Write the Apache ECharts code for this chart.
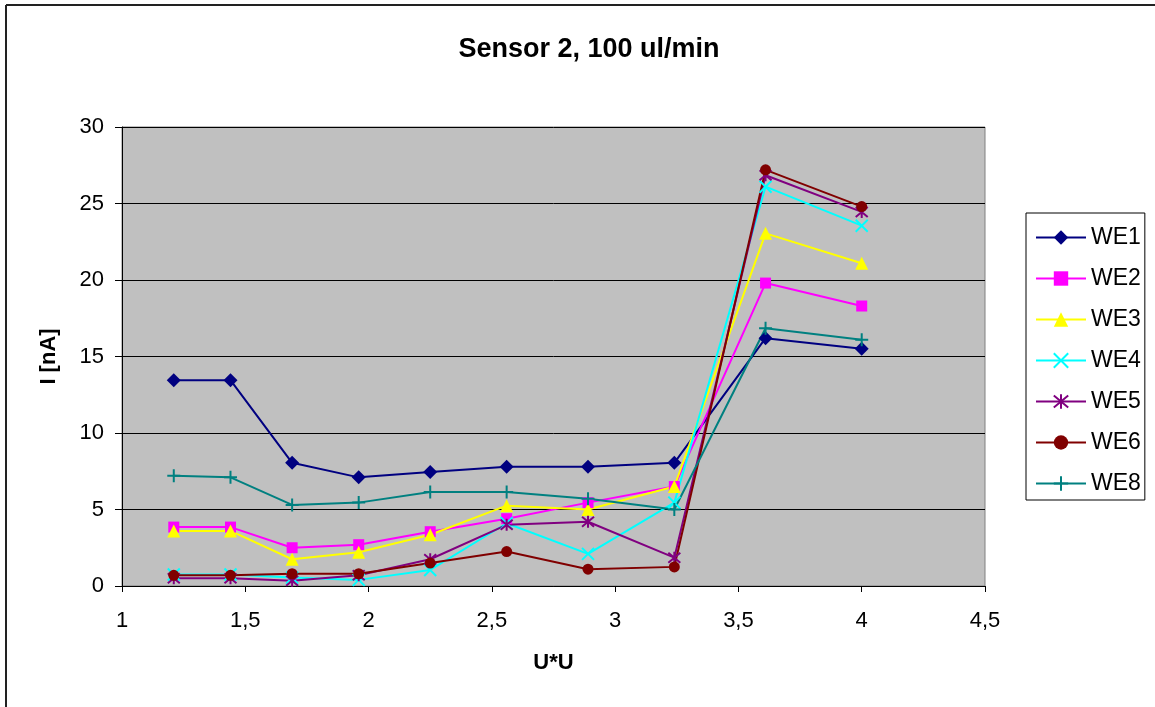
<!DOCTYPE html>
<html>
<head>
<meta charset="utf-8">
<script src="https://cdn.jsdelivr.net/npm/echarts@6/dist/echarts.min.js"></script>
<style>
  html, body { margin: 0; padding: 0; background: #ffffff; }
  #chart { width: 1155px; height: 707px; }
</style>
</head>
<body>
<div id="chart"></div>
<script>
// U*U values (x) and electrode currents I [nA]
const uu  = [1.21, 1.44, 1.69, 1.96, 2.25, 2.56, 2.89, 3.24, 3.61, 4];
const we1 = [13.45, 13.45, 8.05, 7.1, 7.45, 7.8, 7.8, 8.05, 16.2, 15.5];
const we2 = [3.85, 3.85, 2.5, 2.7, 3.55, 4.4, 5.45, 6.5, 19.8, 18.3];
const we3 = [3.6, 3.6, 1.75, 2.2, 3.35, 5.25, 5.0, 6.5, 23.05, 21.1];
const we4 = [0.75, 0.75, 0.55, 0.4, 1.05, 4.1, 2.1, 5.45, 26.1, 23.55];
const we5 = [0.5, 0.5, 0.35, 0.7, 1.75, 4.0, 4.2, 1.85, 26.85, 24.45];
const we6 = [0.7, 0.7, 0.8, 0.8, 1.5, 2.25, 1.1, 1.25, 27.2, 24.8];
const we8 = [7.2, 7.1, 5.3, 5.45, 6.15, 6.15, 5.7, 5.0, 16.85, 16.1];

const FONT = "'Liberation Sans', Arial, sans-serif";

const seriesDefs = [
  { name: 'WE1', data: we1, color: '#000080', symbol: 'diamond', size: 14, fill: true },
  { name: 'WE2', data: we2, color: '#FF00FF', symbol: 'rect', size: 11, fill: true },
  { name: 'WE3', data: we3, color: '#FFFF00', symbol: 'triangle', size: 13, fill: true },
  { name: 'WE4', data: we4, color: '#00FFFF', symbol: 'path://M0,0L10,10M10,0L0,10', size: 12, fill: false },
  { name: 'WE5', data: we5, color: '#800080', symbol: 'path://M0,0L10,10M10,0L0,10M5,-1L5,11', size: 12, fill: false },
  { name: 'WE6', data: we6, color: '#800000', symbol: 'circle', size: 11, fill: true },
  { name: 'WE8', data: we8, color: '#008080', symbol: 'path://M5,0L5,10M0,5L10,5', size: 13, fill: false }
];

const series = seriesDefs.map(s => ({
  name: s.name,
  type: 'line',
  data: uu.map((x, i) => [x, s.data[i]]),
  symbol: s.symbol,
  symbolSize: s.size,
  showAllSymbol: true,
  color: s.color,
  lineStyle: { color: s.color, width: 2 },
  itemStyle: s.fill
    ? { color: s.color, borderWidth: 0 }
    : { color: s.color, borderColor: s.color, borderWidth: 2 },
  emphasis: { disabled: true },
  animation: false
}));

const chart = echarts.init(document.getElementById('chart'), null, { renderer: 'canvas' });
chart.setOption({
  animation: false,
  backgroundColor: '#ffffff',
  title: {
    text: 'Sensor 2, 100 ul/min',
    left: 584,
    top: 31,
    textAlign: 'center',
    textStyle: { fontFamily: FONT, fontSize: 27, fontWeight: 'bold', color: '#000' }
  },
  grid: {
    left: 122, top: 127, right: 170, bottom: 121,
    show: true,
    backgroundColor: '#C0C0C0',
    borderColor: '#808080',
    borderWidth: 1
  },
  legend: {
    orient: 'vertical',
    left: 1026,
    top: 213,
    padding: [13, 4, 5, 9],
    itemWidth: 50,
    itemHeight: 18,
    itemGap: 18,
    backgroundColor: '#ffffff',
    borderColor: '#000000',
    borderWidth: 1,
    borderRadius: 0,
    textStyle: { fontFamily: FONT, fontSize: 23, color: '#000', lineHeight: 22 },
    data: seriesDefs.map(s => s.name)
  },
  xAxis: {
    type: 'value',
    min: 1, max: 4.5, interval: 0.5,
    name: 'U*U',
    nameLocation: 'middle',
    nameGap: 66,
    nameTextStyle: { fontFamily: FONT, fontSize: 22, fontWeight: 'bold', color: '#000' },
    axisLine: { show: true, onZero: false, lineStyle: { color: '#000', width: 1 } },
    axisTick: { show: true, inside: false, length: 6, lineStyle: { color: '#000' } },
    axisLabel: {
      margin: 24, fontFamily: FONT, fontSize: 22, color: '#000',
      formatter: v => String(v).replace('.', ',')
    },
    splitLine: { show: false }
  },
  yAxis: {
    type: 'value',
    min: 0, max: 30, interval: 5,
    name: 'I [nA]',
    nameLocation: 'middle',
    nameGap: 62,
    nameTextStyle: { fontFamily: FONT, fontSize: 22, fontWeight: 'bold', color: '#000' },
    axisLine: { show: true, lineStyle: { color: '#000', width: 1 } },
    axisTick: { show: true, inside: false, length: 7, lineStyle: { color: '#000' } },
    axisLabel: { margin: 18, fontFamily: FONT, fontSize: 22, color: '#000' },
    splitLine: { show: true, lineStyle: { color: '#000', width: 1 } }
  },
  graphic: [
    { type: 'line', shape: { x1: 6, y1: 5, x2: 1155, y2: 5 }, style: { stroke: '#222', lineWidth: 2 }, silent: true },
    { type: 'line', shape: { x1: 6, y1: 5, x2: 6, y2: 707 }, style: { stroke: '#222', lineWidth: 2 }, silent: true }
  ],
  series: series
});
</script>
</body>
</html>
